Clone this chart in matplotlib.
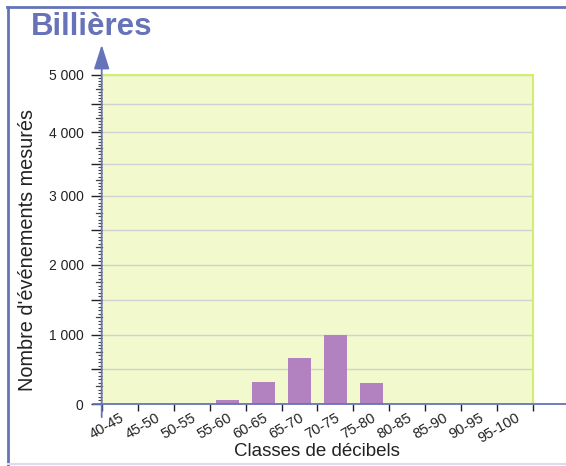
import numpy as np
import matplotlib
matplotlib.use("Agg")
from matplotlib import pyplot as plt
from matplotlib.lines import Line2D
from matplotlib.ticker import MultipleLocator, FuncFormatter
from matplotlib.transforms import blended_transform_factory

# data
classes = ['40-45', '45-50', '50-55', '55-60', '60-65', '65-70',
           '70-75', '75-80', '80-85', '85-90', '90-95', '95-100']
counts = [0, 0, 0, 55, 315, 655, 1000, 305, 0, 0, 0, 0]

# the vertical axis of the original is not linear: it gets squeezed near the top
scale_values = [0, 500, 1000, 1500, 2000, 2500, 3000, 3500, 4000, 4500, 5000]
scale_pixels = [0, 35, 69.3, 104, 139.3, 174, 208, 240, 271.3, 300, 328.7]

sv = np.array(scale_values, dtype=float)
sp = np.array(scale_pixels, dtype=float)


def fwd(v):
    v = np.asarray(v, dtype=float)
    out = np.interp(v, sv, sp)
    out = np.where(v < sv[0], sp[0] + (v - sv[0]) * (sp[1] - sp[0]) / (sv[1] - sv[0]), out)
    out = np.where(v > sv[-1], sp[-1] + (v - sv[-1]) * (sp[-1] - sp[-2]) / (sv[-1] - sv[-2]), out)
    return out


def inv(p):
    p = np.asarray(p, dtype=float)
    out = np.interp(p, sp, sv)
    out = np.where(p < sp[0], sv[0] + (p - sp[0]) * (sv[1] - sv[0]) / (sp[1] - sp[0]), out)
    out = np.where(p > sp[-1], sv[-1] + (p - sp[-1]) * (sv[-1] - sv[-2]) / (sp[-1] - sp[-2]), out)
    return out


axis_blue = '#6673b8'
plt.rcParams['font.family'] = 'Liberation Sans'

W, H = 566, 466
fig = plt.figure(figsize=(W / 100, H / 100), dpi=100)
fig.patch.set_facecolor('white')

left, right, top, bottom = 101.7, 533.3, 75, 404
ax = fig.add_axes([left / W, (H - bottom) / H, (right - left) / W, (bottom - top) / H])
ax.set_facecolor('#f1f9cd')
ax.set_yscale('function', functions=(fwd, inv))
ax.set_ylim(0, 5000)
ax.set_xlim(0, len(classes))

x = np.arange(len(classes)) + 0.5
ax.bar(x, counts, width=0.63, color='#b181c0', zorder=3)

# grid every 500, labels every 1000
ax.yaxis.set_major_locator(MultipleLocator(500))
ax.yaxis.set_minor_locator(MultipleLocator(50))
ax.yaxis.set_major_formatter(FuncFormatter(
    lambda v, p: f"{int(v):,}".replace(',', ' ') if int(v) % 1000 == 0 else ''))
ax.grid(axis='y', which='major', color='#d2d2d2', lw=1, zorder=1)
ax.tick_params(axis='y', which='major', length=8, width=1, color='#222222',
               labelsize=10, labelcolor='#222222', pad=5)
ax.tick_params(axis='y', which='minor', length=3, width=0.8, color='#444444')

# medium ticks at the 250 marks
bt = blended_transform_factory(ax.transAxes, ax.transData)
for v in range(250, 5000, 500):
    ax.plot([-0.013, 0], [v, v], transform=bt, color='#444444', lw=0.9, clip_on=False)

ax.set_xticks(range(len(classes) + 1))
ax.set_xticklabels([])
ax.set_xticks(x, minor=True)
ax.set_xticklabels(classes, minor=True, rotation=30, ha='right', rotation_mode='anchor')
ax.tick_params(axis='x', which='major', length=5, width=1, color='#222222')
ax.tick_params(axis='x', which='minor', length=0, labelsize=10.5, labelcolor='#222222', pad=5)

for s in ['left', 'bottom']:
    ax.spines[s].set_visible(False)
for s in ['top', 'right']:
    ax.spines[s].set_color('#d2ee6e')
    ax.spines[s].set_linewidth(1.5)

# axis lines with arrow heads
arrow = dict(arrowstyle='-|>,head_length=0.75,head_width=0.24', mutation_scale=20,
             color=axis_blue, lw=1.3, shrinkA=0, shrinkB=0)
ax.annotate('', xy=(0, 1.092), xytext=(0, -0.04), xycoords='axes fraction',
            arrowprops=arrow, annotation_clip=False, zorder=5)
ax.annotate('', xy=(1.208, 0), xytext=(-0.02, 0), xycoords='axes fraction',
            arrowprops=arrow, annotation_clip=False, zorder=5)

# titles
fig.text(31 / W, (H - 35) / H, 'Billières', fontsize=22.5, fontweight='bold',
         color=axis_blue, ha='left', va='baseline')
fig.text(27.5 / W, 1 - 250 / H, "Nombre d'événements mesurés", rotation=90,
         fontsize=14.3, color='#222222', ha='center', va='center')
fig.text(317 / W, 1 - 451 / H, 'Classes de décibels', fontsize=13.5,
         color='#222222', ha='center', va='center')

# frame around the figure
fig.add_artist(Line2D([7.5 / W, 7.5 / W], [0, 1 - 7 / H], color=axis_blue, lw=2))
fig.add_artist(Line2D([6.5 / W, 1], [1 - 7 / H, 1 - 7 / H], color=axis_blue, lw=2))
fig.add_artist(Line2D([7.5 / W, 1], [1 - 464 / H, 1 - 464 / H], color='#dcdcf0', lw=1.5))

fig.savefig('out.png', dpi=100)
